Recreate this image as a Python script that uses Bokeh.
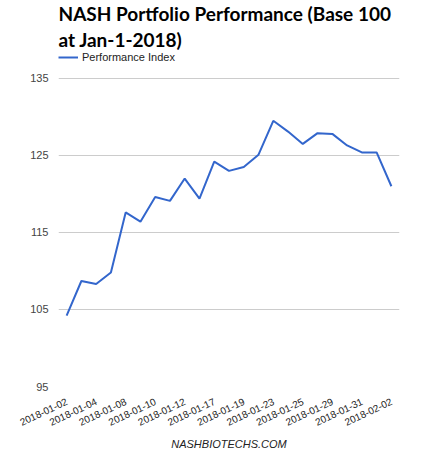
from bokeh.plotting import figure
from bokeh.models import Legend, LegendItem, FixedTicker, Range1d
from bokeh.embed import file_html
from bokeh.resources import INLINE

dates = ["2018-01-02", "2018-01-03", "2018-01-04", "2018-01-05", "2018-01-08",
         "2018-01-09", "2018-01-10", "2018-01-11", "2018-01-12", "2018-01-16",
         "2018-01-17", "2018-01-18", "2018-01-19", "2018-01-22", "2018-01-23",
         "2018-01-24", "2018-01-25", "2018-01-26", "2018-01-29", "2018-01-30",
         "2018-01-31", "2018-02-01", "2018-02-02"]
performance = [104.2, 108.7, 108.3, 109.8, 117.6, 116.4, 119.6, 119.1, 122.0,
               119.4, 124.2, 123.0, 123.5, 125.1, 129.5, 128.1, 126.5, 127.9,
               127.8, 126.3, 125.4, 125.4, 121.0]
y_ticks = [95, 105, 115, 125, 135]
x_tick_labels = dates[::2]

x = list(range(len(dates)))
x_ticks = [dates.index(d) for d in x_tick_labels]

p = figure(width=421, height=452, output_backend="svg", toolbar_location=None,
           title="NASH Portfolio Performance (Base 100\nat Jan-1-2018)",
           x_range=Range1d(-0.55, len(dates) - 1 + 0.55),
           y_range=Range1d(95, 138.5),
           min_border_left=58, min_border_right=22, min_border_top=43,
           min_border_bottom=50)
p.outline_line_color = None
p.background_fill_color = "white"
p.border_fill_color = "white"

p.title.text_font = "Lato"
p.title.text_font_size = "19px"
p.title.text_font_style = "bold"
p.title.text_color = "#000000"
p.title.text_line_height = 1.15
p.title.align = "left"
p.title.standoff = 0
p.title.offset = 0

r = p.line(x, performance, line_color="#3366cc", line_width=2)

legend = Legend(items=[LegendItem(label="Performance Index", renderers=[r])],
                location="top_left", margin=0, padding=0, glyph_width=20,
                glyph_height=12, label_height=12, label_standoff=4,
                label_text_font="Liberation Sans", label_text_font_size="11px",
                label_text_color="#222222", border_line_color=None,
                background_fill_alpha=0)
p.add_layout(legend)

p.xgrid.visible = False
p.ygrid.grid_line_color = "#cccccc"
p.ygrid.ticker = FixedTicker(ticks=y_ticks)

p.yaxis.ticker = FixedTicker(ticks=y_ticks)
p.yaxis.axis_line_color = None
p.yaxis.major_tick_line_color = None
p.yaxis.minor_tick_line_color = None
p.yaxis.major_tick_out = 0
p.yaxis.major_label_standoff = 10
p.yaxis.major_label_text_font = "Liberation Sans"
p.yaxis.major_label_text_font_size = "11px"
p.yaxis.major_label_text_color = "#444444"

p.xaxis.ticker = FixedTicker(ticks=x_ticks)
p.xaxis.major_label_overrides = {t: lab for t, lab in zip(x_ticks, x_tick_labels)}
p.xaxis.axis_line_color = None
p.xaxis.major_tick_line_color = None
p.xaxis.minor_tick_line_color = None
p.xaxis.major_tick_out = 0
p.xaxis.major_label_standoff = 14
p.xaxis.major_label_orientation = 0.44
p.xaxis.major_label_text_font = "Liberation Sans"
p.xaxis.major_label_text_font_size = "10px"
p.xaxis.major_label_text_color = "#222222"
p.xaxis.axis_label = "NASHBIOTECHS.COM"
p.xaxis.axis_label_text_font = "Liberation Sans"
p.xaxis.axis_label_text_font_size = "11px"
p.xaxis.axis_label_text_font_style = "italic"
p.xaxis.axis_label_text_color = "#222222"
p.xaxis.axis_label_standoff = 5

open("out.html", "w").write(file_html(p, INLINE))
